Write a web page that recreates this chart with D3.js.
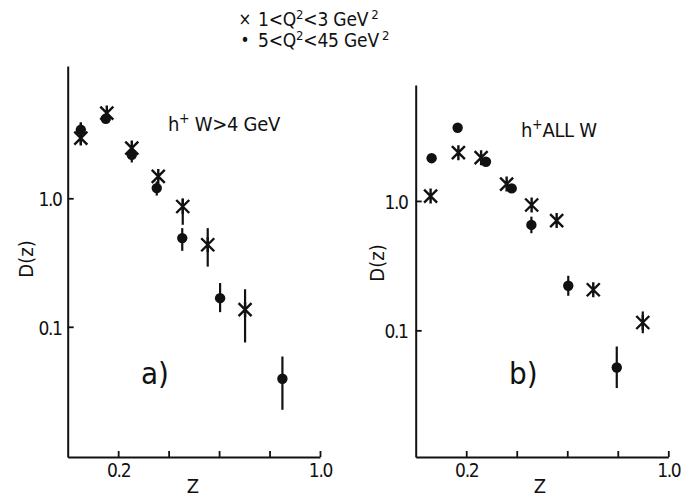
<!DOCTYPE html>
<html><head><meta charset="utf-8">
<script src="https://cdn.jsdelivr.net/npm/d3@7"></script>
<style>
html,body{margin:0;padding:0;background:#fff;}
svg text{font-family:"DejaVu Sans Condensed","DejaVu Sans",sans-serif;fill:#111;}
</style></head>
<body><svg id="c" width="700" height="499"></svg>
<script>
// ---- data ----
const xTicks = [0.2, 0.4, 0.6, 0.8, 1.0];
const xTickLabels = ["0.2", "", "", "", "1.0"];
const yTicks = [0.1, 1.0];
const yTickLabels = ["0.1", "1.0"];

// panel a: h+ W > 4 GeV
const aDotZ  = [0.052, 0.151, 0.254, 0.353, 0.454, 0.604, 0.851];
const aDotD  = [3.41, 4.16, 2.18, 1.20, 0.49, 0.167, 0.0394];
const aDotLo = [2.90, 4.16, 1.90, 1.05, 0.39, 0.130, 0.0226];
const aDotHi = [3.90, 4.16, 2.50, 1.35, 0.586, 0.219, 0.0587];
const aCrossZ  = [0.052, 0.155, 0.254, 0.359, 0.456, 0.555, 0.703];
const aCrossD  = [2.94, 4.60, 2.46, 1.48, 0.863, 0.435, 0.136];
const aCrossLo = [2.61, 4.60, 2.46, 1.48, 0.622, 0.294, 0.0755];
const aCrossHi = [3.87, 4.60, 2.46, 1.48, 1.00, 0.586, 0.196];

// panel b: h+ ALL W
const bDotZ  = [0.063, 0.166, 0.278, 0.380, 0.458, 0.604, 0.796];
const bDotD  = [2.14, 3.68, 2.01, 1.25, 0.653, 0.221, 0.0516];
const bDotLo = [2.14, 3.68, 2.01, 1.25, 0.563, 0.185, 0.0358];
const bDotHi = [2.14, 3.68, 2.01, 1.25, 0.756, 0.264, 0.0750];
const bCrossZ  = [0.059, 0.169, 0.259, 0.360, 0.459, 0.558, 0.703, 0.899];
const bCrossD  = [1.09, 2.36, 2.16, 1.35, 0.93, 0.705, 0.206, 0.115];
const bCrossLo = [1.09, 2.36, 2.16, 1.35, 0.93, 0.705, 0.206, 0.095];
const bCrossHi = [1.09, 2.36, 2.16, 1.35, 0.93, 0.705, 0.206, 0.140];

const svg = d3.select("#c");

function panel(cfg) {
  const x = d3.scaleLinear([0, 1], cfg.xr);
  const y = d3.scaleLog(cfg.yd, cfg.yr);
  const g = svg.append("g");

  const xa = g.append("g").attr("transform", `translate(0,${cfg.yr[0]})`)
    .call(d3.axisBottom(x).tickValues(xTicks).tickSize(-6).tickSizeOuter(0)
      .tickPadding(7).tickFormat((d, i) => xTickLabels[i]));
  const ya = g.append("g").attr("transform", `translate(${cfg.xr[0]},0)`)
    .call(d3.axisLeft(y).tickValues(yTicks).tickSize(-6).tickSizeOuter(0)
      .tickPadding(cfg.ypad).tickFormat((d, i) => yTickLabels[i]));
  [xa, ya].forEach(a => {
    a.select(".domain").attr("stroke", "#111").attr("stroke-width", 2);
    a.selectAll(".tick line").attr("stroke", "#111").attr("stroke-width", 1.8);
    a.selectAll(".tick text").attr("font-size", 19).attr("letter-spacing", -1.3)
      .attr("fill", "#111").style("font-family", '"DejaVu Sans Condensed",sans-serif');
  });
  ya.selectAll(".tick text").attr("dy", "0.4em");

  // error bars
  const bars = (Z, Lo, Hi) => g.append("g").selectAll("line").data(Z).join("line")
    .attr("x1", d => x(d)).attr("x2", d => x(d))
    .attr("y1", (d, i) => y(Lo[i])).attr("y2", (d, i) => y(Hi[i]))
    .attr("stroke", "#111").attr("stroke-width", 2.2);
  bars(cfg.dz, cfg.dlo, cfg.dhi);
  bars(cfg.cz, cfg.clo, cfg.chi);

  // dots
  g.append("g").selectAll("circle").data(cfg.dz).join("circle")
    .attr("cx", d => x(d)).attr("cy", (d, i) => y(cfg.dd[i])).attr("r", 5.2)
    .attr("fill", "#111");
  // asterisk crosses
  g.append("g").selectAll("path").data(cfg.cz).join("path")
    .attr("transform", (d, i) => `translate(${x(d)},${y(cfg.cd[i])})`)
    .attr("d", "M-6.5,-6.5L6.5,6.5M-6.5,6.5L6.5,-6.5M0,-7.5V7.5")
    .attr("stroke", "#111").attr("stroke-width", 2.4).attr("fill", "none");

  // labels
  const t = g.append("text").attr("x", cfg.title[0]).attr("y", cfg.title[1]).attr("font-size", 20).attr("letter-spacing", -0.3);
  t.append("tspan").text("h");
  t.append("tspan").text("+").attr("font-size", 14).attr("dy", -8);
  t.append("tspan").text(cfg.titleRest).attr("dy", 8);
  g.append("text").attr("x", cfg.tag[0]).attr("y", cfg.tag[1]).attr("font-size", 31).text(cfg.tagText);
  g.append("text").attr("transform", `translate(${cfg.ylab[0]},${cfg.ylab[1]}) rotate(-90)`)
    .attr("text-anchor", "middle").attr("font-size", 20).text("D(z)");
  g.append("text").attr("x", cfg.zlab[0]).attr("y", cfg.zlab[1]).attr("text-anchor", "middle")
    .attr("font-size", 20).text("Z");
}

panel({xr: [67.7, 320], yr: [457, 66], yd: [0.0097, 10.7], ypad: 6,
  dz: aDotZ, dd: aDotD, dlo: aDotLo, dhi: aDotHi,
  cz: aCrossZ, cd: aCrossD, clo: aCrossLo, chi: aCrossHi,
  title: [168, 131], titleRest: " W>4 GeV", tag: [141, 384], tagText: "a)",
  ylab: [33, 259], zlab: [193, 493]});
panel({xr: [415.7, 668.3], yr: [457, 85], yd: [0.0105, 7.87], ypad: 8,
  dz: bDotZ, dd: bDotD, dlo: bDotLo, dhi: bDotHi,
  cz: bCrossZ, cd: bCrossD, clo: bCrossLo, chi: bCrossHi,
  title: [521, 137], titleRest: "ALL W", tag: [509, 384], tagText: "b)",
  ylab: [384, 263], zlab: [540, 493]});

// legend
const legend = [
  {sym: "\u00d7", lo: "1", hi: "3"},
  {sym: "\u2022", lo: "5", hi: "45"}
];
legend.forEach((L, i) => {
  const yy = 26 + i * 21;
  svg.append("text").attr("x", 245).attr("y", yy - 1).attr("text-anchor", "middle")
    .attr("font-size", 17).text(L.sym);
  const t = svg.append("text").attr("x", 258).attr("y", yy).attr("font-size", 19).attr("letter-spacing", -0.2);
  t.append("tspan").text(L.lo + "<Q");
  t.append("tspan").text("2").attr("font-size", 13).attr("dy", -7);
  t.append("tspan").text("<" + L.hi + " GeV").attr("dy", 7);
  t.append("tspan").text("2").attr("font-size", 13).attr("dy", -7).attr("dx", 3);
});
</script></body></html>
